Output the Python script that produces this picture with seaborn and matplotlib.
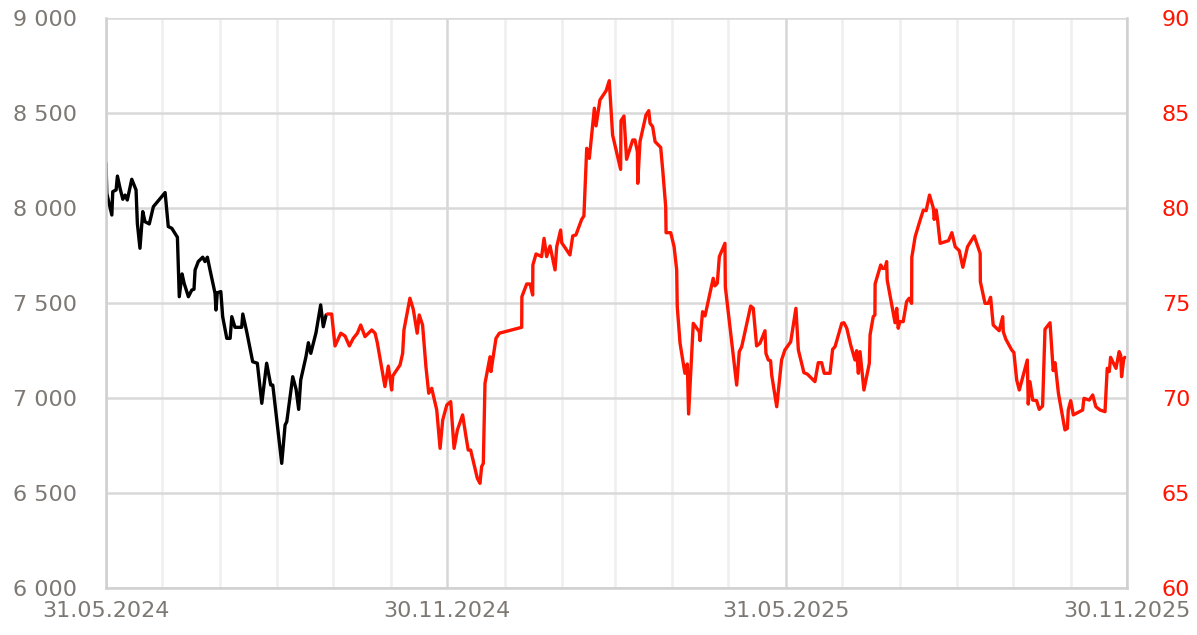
import pandas as pd
import matplotlib.pyplot as plt
import matplotlib.dates as mdates
from matplotlib.ticker import FuncFormatter, FixedLocator
import seaborn as sns

# dzień 0 = 31.05.2024
start = pd.Timestamp("2024-05-31")
end = pd.Timestamp("2025-11-30")

# seria czarna (lewa oś)
black_days = [0.0, 0.4, 3.1, 3.6, 5.4, 6.1, 7.5, 9.0, 10.2, 11.4, 13.8, 16.1, 16.8, 18.2,
              19.7, 20.9, 23.2, 25.4, 31.7, 33.4, 35.3, 38.3, 39.3, 40.8, 41.9, 44.2, 46.0,
              47.2, 47.8, 49.5, 51.9, 53.1, 54.4, 55.8, 58.5, 59.0, 59.7, 61.6, 62.6, 64.8,
              66.6, 67.5, 69.2, 72.8, 73.4, 75.5, 78.7, 81.2, 83.6, 86.2, 88.4, 89.5, 94.3,
              96.1, 97.0, 100.2, 102.0, 103.4, 104.5, 107.3, 108.6, 109.9, 112.7, 115.2,
              116.6, 118.1]
black_vals = [8235, 8077, 7963, 8086, 8095, 8168, 8104, 8046, 8068, 8042, 8151, 8095, 7919, 7788,
              7981, 7928, 7916, 8007, 8081, 7902, 7893, 7846, 7533, 7653, 7604, 7533, 7568,
              7572, 7674, 7718, 7741, 7718, 7741, 7674, 7551, 7463, 7554, 7560, 7428, 7314,
              7314, 7428, 7372, 7372, 7442, 7349, 7191, 7183, 6972, 7183, 7068, 7068, 6656,
              6858, 6875, 7112, 7046, 6940, 7095, 7217, 7291, 7235, 7344, 7490,
              7375, 7437]

# seria czerwona (prawa oś)
red_days = [118.8, 121.1, 122.9, 126.0, 128.3, 130.6, 132.7, 134.9, 136.7, 139.0, 142.6, 144.4,
            145.6, 149.7, 151.5, 153.3, 153.9, 157.8, 159.2, 159.9, 163.1, 164.9, 167.0, 168.1,
            169.9, 171.7, 173.2, 174.8, 177.5, 179.3, 180.7, 182.9, 185.0, 186.8, 188.6, 191.4,
            193.2, 194.4, 195.7, 199.3, 200.7, 201.6, 202.5, 203.4, 206.1, 206.6, 209.3, 211.1,
            223.1, 223.2, 225.8, 227.6, 229.0, 229.1, 230.8, 233.8, 235.1, 236.5, 238.3, 241.0,
            241.9, 244.0, 244.6, 249.0, 250.5, 252.2, 255.3, 256.5, 258.0, 259.4, 262.1, 263.0,
            265.1, 268.4, 270.1, 271.9, 276.2, 276.4, 278.0, 279.4, 282.7, 283.9, 285.2, 285.4,
            286.6, 289.8, 291.3, 292.0, 293.4, 294.7, 297.7, 298.8, 300.4, 300.6, 303.1, 304.9,
            306.3, 306.6, 308.1, 310.7, 312.0, 312.7, 315.2, 318.4, 318.8, 320.2, 321.5, 325.9,
            326.8, 328.1, 329.2, 332.2, 332.4, 338.5, 339.9, 341.2, 346.0, 347.4, 349.2, 351.0,
            353.7, 354.2, 355.5, 356.7, 357.3, 360.0, 362.6, 364.4, 367.5, 370.3, 371.6, 374.6,
            376.4, 380.5, 382.3, 384.1, 385.5, 388.6, 390.0, 391.3, 394.9, 396.1, 397.6, 399.7,
            402.0, 402.9, 403.8, 404.7, 406.8, 409.7, 410.1, 411.8, 412.7, 412.8, 415.8, 416.8,
            418.1, 419.0, 419.3, 423.5, 424.4, 425.2, 426.1, 427.9, 429.7, 431.1, 432.4, 432.5,
            434.3, 437.0, 438.7, 440.2, 442.0, 444.1, 444.5, 445.6, 446.3, 447.7, 452.2, 454.0,
            455.8, 458.0, 459.9, 462.4, 466.0, 469.2, 469.3, 471.8, 473.5, 474.8, 476.2, 479.4,
            481.3, 481.6, 483.0, 486.1, 487.3, 488.8, 490.2, 494.5, 495.0, 495.9, 497.4, 499.5,
            500.9, 502.7, 504.0, 506.7, 508.4, 509.4, 511.2, 514.7, 516.0, 516.5, 517.8, 519.2,
            524.2, 524.9, 527.8, 529.6, 531.3, 533.5, 536.2, 537.4, 538.5, 539.2, 542.1, 543.8,
            544.6, 545.1, 546.3, 546.9]
red_vals = [74.42, 74.42, 72.74, 73.41, 73.26, 72.74, 73.14, 73.41, 73.84, 73.23, 73.58, 73.41,
            72.91, 70.60, 71.68, 70.42, 71.16, 71.74, 72.35, 73.58, 75.25, 74.67, 73.41, 74.37,
            73.84, 71.65, 70.25, 70.51, 69.37, 67.35, 68.84, 69.63, 69.81, 67.35, 68.32, 69.11,
            67.97, 67.26, 67.26, 65.77, 65.51, 66.39, 66.56, 70.77, 72.17, 71.39, 73.14, 73.41,
            73.72, 75.33, 76.00, 76.00, 75.42, 77.00, 77.58, 77.44, 78.40, 77.44, 78.00, 76.74,
            77.96, 78.84, 78.17, 77.53, 78.53, 78.58, 79.40, 79.58, 83.14, 82.61, 85.25, 84.32,
            85.68, 86.17, 86.70, 83.84, 82.03, 84.59, 84.84, 82.56, 83.58, 83.58, 82.96, 81.30,
            83.49, 84.89, 85.12, 84.46, 84.28, 83.49, 83.19, 82.00, 80.07, 78.70, 78.70, 77.96,
            76.74, 74.81, 72.88, 71.30, 71.79, 69.16, 73.93, 73.49, 73.02, 74.54, 74.32, 76.30,
            75.90, 76.04, 77.44, 78.14, 75.86, 70.68, 72.44, 72.70, 74.84, 74.72, 72.74, 72.88,
            73.54, 72.35, 72.00, 71.96, 71.21, 69.54, 72.00, 72.53, 72.96, 74.72, 72.53, 71.33,
            71.26, 70.86, 71.86, 71.86, 71.30, 71.30, 72.56, 72.70, 73.93, 73.96, 73.67, 72.79,
            72.00, 72.49, 71.30, 72.44, 70.42, 71.83, 73.32, 74.28, 74.37, 76.00, 77.00, 76.82,
            76.82, 77.18, 76.21, 73.96, 74.72, 73.67, 74.02, 74.02, 75.07, 75.25, 74.98, 77.40,
            78.49, 79.37, 79.89, 79.86, 80.68, 79.98, 79.40, 79.89, 79.40, 78.14, 78.28, 78.70,
            77.96, 77.75, 76.88, 77.96, 78.53, 77.61, 76.12, 74.98, 74.98, 75.30, 73.84, 73.54,
            74.28, 73.49, 73.09, 72.53, 72.39, 70.95, 70.42, 72.00, 69.68, 70.86, 69.89, 69.86,
            69.40, 69.58, 73.62, 73.96, 71.44, 71.86, 70.25, 68.32, 68.40, 69.37, 69.86, 69.11,
            69.37, 69.98, 69.89, 70.16, 69.54, 69.37, 69.28, 71.56, 71.39, 72.14, 71.56, 72.44,
            72.26, 71.12, 72.09, 72.14]

left_ticks = [6000, 6500, 7000, 7500, 8000, 8500, 9000]
right_ticks = [60, 65, 70, 75, 80, 85, 90]

df_black = pd.DataFrame({"data": start + pd.to_timedelta(black_days, unit="D"), "wartosc": black_vals})
df_red = pd.DataFrame({"data": start + pd.to_timedelta(red_days, unit="D"), "wartosc": red_vals})

sns.set_theme(style="white")
plt.rcParams["font.family"] = ["DejaVu Sans"]
plt.rcParams["ytick.major.pad"] = 20
plt.rcParams["xtick.major.pad"] = 9

fig = plt.figure(figsize=(11.97, 6.35), dpi=100)
ax = fig.add_axes([0.0886, 0.074, 0.8529, 0.8977])
ax2 = ax.twinx()

sns.lineplot(data=df_black, x="data", y="wartosc", ax=ax, color="black",
             linewidth=2.4, estimator=None, sort=False)
sns.lineplot(data=df_red, x="data", y="wartosc", ax=ax2, color="#ff1400",
             linewidth=2.4, estimator=None, sort=False)

ax.set_xlim(start, end)
ax.set_ylim(6000, 9000)
ax2.set_ylim(60, 90)
ax.set_xlabel("")
ax.set_ylabel("")
ax2.set_ylabel("")

# siatka: koniec każdego miesiąca, etykiety co pół roku
month_ends = pd.date_range(start, end, freq="ME")
major = [d for d in month_ends if d.month in (5, 11)]
ax.xaxis.set_major_locator(FixedLocator(mdates.date2num(major)))
ax.xaxis.set_minor_locator(FixedLocator(mdates.date2num(month_ends)))
ax.xaxis.set_major_formatter(mdates.DateFormatter("%d.%m.%Y"))

ax.set_yticks(left_ticks)
ax.yaxis.set_major_formatter(FuncFormatter(lambda v, p: f"{int(v):,}".replace(",", " ")))
ax2.set_yticks(right_ticks)

ax.grid(True, which="major", axis="y", color="#d9d9d9", linewidth=1.8)
ax.grid(True, which="minor", axis="x", color="#efefef", linewidth=1.8)
ax.grid(True, which="major", axis="x", color="#d6d6d6", linewidth=1.8)
ax.set_axisbelow(True)
ax2.grid(False)

for a in (ax, ax2):
    for s in a.spines.values():
        s.set_visible(False)
for a, side in ((ax, "left"), (ax, "bottom"), (ax2, "right")):
    a.spines[side].set_visible(True)
    a.spines[side].set_color("#d0d0d0")
    a.spines[side].set_linewidth(1.8)

ax.tick_params(axis="y", length=0, pad=21, labelsize=16, labelcolor="#7d7873")
ax.tick_params(axis="x", which="both", length=0, pad=9, labelsize=16, labelcolor="#7d7873")
ax2.yaxis.set_tick_params(which="both", length=0, pad=25, labelsize=16, labelcolor="#ff1400")

fig.savefig("out.png", dpi=100)
